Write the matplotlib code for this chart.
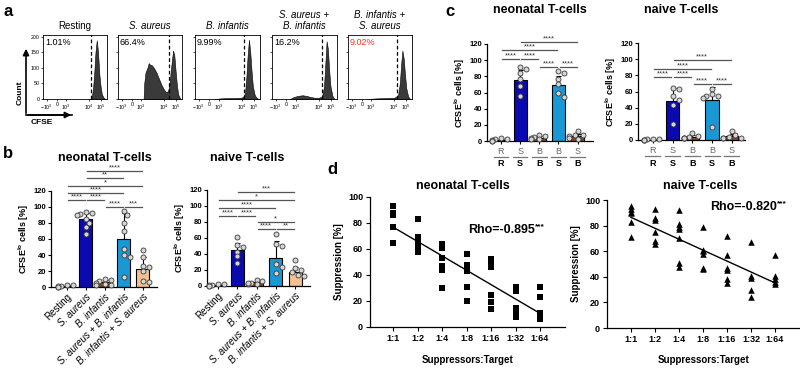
import numpy as np
import matplotlib
matplotlib.use('Agg')
import matplotlib.pyplot as plt
from matplotlib.transforms import offset_copy

plt.rcParams['font.family'] = ['Liberation Sans', 'DejaVu Sans']
plt.rcParams['mathtext.fontset'] = 'custom'
plt.rcParams['mathtext.rm'] = 'Liberation Sans'
plt.rcParams['mathtext.it'] = 'Liberation Sans:italic'
plt.rcParams['mathtext.bf'] = 'Liberation Sans:bold'

# ---------- data ----------
# a: CFSE histograms (position on biexponential axis 0..1, count)
hist_titles = ['Resting', 'S. aureus', 'B. infantis', 'S. aureus +\nB. infantis', 'B. infantis +\nS. aureus']
hist_pct = ['1.01%', '66.4%', '9.99%', '16.2%', '9.02%']
hist_gate = [0.755, 0.79, 0.76, 0.77, 0.77]
h1_x = [0.74, 0.76, 0.78, 0.80, 0.82, 0.84, 0.86, 0.88, 0.90, 0.92, 0.95, 0.98]
h1_y = [0, 5, 30, 80, 150, 188, 150, 80, 40, 15, 3, 0]
h2_x = [0.40, 0.41, 0.43, 0.46, 0.48, 0.50, 0.53, 0.56, 0.60, 0.64, 0.68, 0.72, 0.75, 0.78, 0.80, 0.83, 0.86, 0.88, 0.90, 0.92, 0.94, 0.97]
h2_y = [0, 50, 85, 100, 115, 110, 108, 100, 85, 65, 45, 30, 22, 25, 40, 100, 155, 140, 90, 45, 15, 2]
h3_x = [0.30, 0.40, 0.50, 0.60, 0.70, 0.74, 0.77, 0.79, 0.81, 0.83, 0.85, 0.87, 0.89, 0.92, 0.95, 0.98]
h3_y = [0, 2, 3, 3, 4, 6, 20, 70, 140, 190, 150, 90, 40, 12, 3, 0]
h4_x = [0.28, 0.33, 0.40, 0.47, 0.53, 0.60, 0.66, 0.72, 0.77, 0.80, 0.82, 0.84, 0.86, 0.88, 0.90, 0.93, 0.96]
h4_y = [0, 6, 10, 12, 10, 6, 4, 4, 8, 40, 110, 185, 160, 90, 40, 10, 0]
h5_x = [0.30, 0.45, 0.60, 0.72, 0.78, 0.81, 0.83, 0.85, 0.87, 0.89, 0.91, 0.94, 0.97]
h5_y = [0, 2, 3, 4, 10, 50, 110, 155, 130, 80, 35, 8, 0]
hist_x = [h1_x, h2_x, h3_x, h4_x, h5_x]
hist_y = [h1_y, h2_y, h3_y, h4_y, h5_y]
hist_ticks = [0.06, 0.22, 0.365, 0.72, 0.91]
hist_ticklabels = ['$-10^3$', '0', '$10^3$', '$10^4$', '$10^5$']

# b: CFSE-lo cells, single / combined stimulation
b_labels = ['Resting', 'S. aureus', 'B. infantis', 'S. aureus + B. infantis', 'B. infantis + S. aureus']
b_colors = ['white', '#0a0ab0', '#8a4a1c', '#1a98d4', '#f6c18e']
b_neo_mean = [1, 85, 6, 60, 23]
b_neo_sd = [1, 8, 3, 33, 14]
b_neo_pts = [[0, 1, 2, 3, 1, 0],
             [94, 92, 91, 90, 85, 80, 75, 66],
             [10, 9, 8, 5, 3, 2, 4],
             [95, 90, 80, 70, 47, 40, 37, 12],
             [46, 37, 26, 25, 20, 8, 6]]
b_neo_sig = [(1, 4, 145, '****'), (1, 3, 136, '**'), (0, 4, 126, '*'), (0, 3, 117, '****'),
             (0, 1, 109, '****'), (1, 2, 109, '****'), (2, 3, 100, '****'), (3, 4, 100, '***')]
b_nai_mean = [1, 45, 5, 35, 17]
b_nai_sd = [1, 9, 2, 21, 7]
b_nai_pts = [[0, 1, 2, 1, 0, 2],
             [61, 51, 49, 43, 37, 29],
             [8, 6, 4, 3, 2, 4],
             [65, 52, 50, 27, 24, 16],
             [33, 22, 20, 14, 13, 17]]
b_nai_sig = [(1, 4, 118, '***'), (0, 4, 108, '*'), (0, 3, 97, '****'), (0, 1, 88, '****'),
             (1, 2, 88, '****'), (2, 4, 80, '*'), (2, 3, 71, '****'), (3, 4, 71, '**')]

# c: sequential stimulation
c_first = ['R', 'S', 'B', 'B', 'S']
c_second = ['R', 'S', 'B', 'S', 'B']
c_colors = ['white', '#0a0ab0', '#8a4a1c', '#1a98d4', '#8a4a1c']
c_neo_mean = [1, 75, 4, 69, 6]
c_neo_sd = [1, 13, 2, 12, 3]
c_neo_pts = [[4, 3, 2, 1, 0, 0],
             [92, 89, 84, 77, 68, 56],
             [8, 6, 5, 4, 3, 2],
             [87, 84, 77, 71, 59, 55],
             [12, 8, 7, 6, 4, 2]]
c_neo_sig = [(1, 4, 123, '****'), (0, 3, 112, '****'), (0, 1, 101, '****'), (1, 2, 101, '****'),
             (2, 3, 92, '****'), (3, 4, 92, '****')]
c_nai_mean = [0.5, 48, 4, 49, 5]
c_nai_sd = [0.5, 16, 2, 16, 3]
c_nai_pts = [[1, 0, 0, 1, 0, 1],
             [64, 63, 54, 50, 43, 20],
             [9, 5, 4, 3, 2, 3],
             [63, 57, 55, 54, 52, 16],
             [11, 6, 4, 3, 3, 2]]
c_nai_sig = [(1, 4, 99, '****'), (0, 3, 88, '****'), (0, 1, 78, '****'), (1, 2, 78, '****'),
             (2, 3, 69, '****'), (3, 4, 69, '****')]

# d: suppression vs ratio
ratios = ['1:1', '1:2', '1:4', '1:8', '1:16', '1:32', '1:64']
d_neo = [[93, 88, 86, 77, 65],
         [83, 69, 67, 64, 60, 58],
         [64, 61, 53, 47, 44, 30],
         [56, 48, 43, 31, 20],
         [52, 48, 46, 25, 19, 14],
         [31, 28, 15, 10, 8],
         [31, 23, 11, 8, 6]]
d_nai = [[95, 93, 91, 90, 83, 71],
         [93, 86, 84, 75, 68, 66],
         [92, 81, 79, 77, 70, 51, 48],
         [79, 61, 60, 58, 47, 46],
         [72, 57, 47, 45, 38, 35],
         [67, 41, 39, 30, 24],
         [57, 41, 38, 36, 34]]
rho_neo = 'Rho=-0.895'
rho_nai = 'Rho=-0.820'
rho_stars = '***'

# ---------- figure ----------
W, H = 800, 370
fig = plt.figure(figsize=(8, 3.7), dpi=100)


def box(l, t, r, b):
    return fig.add_axes([l / W, 1 - b / H, (r - l) / W, (b - t) / H])


def ftext(x, y, s, **kw):
    return fig.text(x / W, 1 - y / H, s, **kw)


for lab, x, y in [('a', 8, 12), ('b', 8, 153), ('c', 450, 12), ('d', 332, 170)]:
    ftext(x, y, lab, fontsize=12, fontweight='bold', ha='center', va='center')

# ---- a ----
hist_boxes = [(43, 35, 107, 99), (118, 35, 182, 99), (195, 35, 260, 99), (272, 35, 337, 99), (348, 35, 412, 99)]
for i, (l, t, r, b) in enumerate(hist_boxes):
    ax = box(l, t, r, b)
    ax.fill_between(hist_x[i], hist_y[i], color='#3a3a3a', lw=0.4, edgecolor='black')
    ax.axvline(hist_gate[i], color='black', ls=(0, (3, 2)), lw=0.9)
    ax.set_xlim(0, 1)
    ax.set_ylim(0, 205)
    ax.set_xticks(hist_ticks)
    ax.set_xticklabels(hist_ticklabels)
    ax.set_yticks([0, 50, 100, 150, 200])
    if i > 0:
        ax.set_yticklabels([])
    ax.tick_params(length=1.5, width=0.5, labelsize=3.8, pad=1)
    for s in ax.spines.values():
        s.set_linewidth(0.6)
    ax.text(0.03, 0.95, hist_pct[i], transform=ax.transAxes, fontsize=6.5, va='top',
            color='#e8362a' if i == 4 else 'black')
    ftext((l + r) / 2, t - 4, hist_titles[i], fontsize=7, ha='center', va='bottom',
          fontstyle='normal' if i == 0 else 'italic', linespacing=1.1)

fig.add_artist(plt.Line2D([26 / W, 72 / W], [1 - 115 / H, 1 - 115 / H], color='black', lw=1.2))
ax0 = fig.add_axes([0, 0, 1, 1], frameon=False)
ax0.set_xlim(0, W)
ax0.set_ylim(H, 0)
ax0.axis('off')
ax0.annotate('', xy=(26, 46), xytext=(26, 116), arrowprops=dict(arrowstyle='-|>', lw=1.2, color='black', mutation_scale=9))
ax0.annotate('', xy=(74, 115), xytext=(25.4, 115), arrowprops=dict(arrowstyle='-|>', lw=1.2, color='black', mutation_scale=9))
ftext(20, 93, 'Count', fontsize=6, fontweight='bold', rotation=90, ha='center', va='center')
ftext(42, 123, 'CFSE', fontsize=6, fontweight='bold', ha='center', va='center')


def swarm(vals, xs, ys, d=4.8):
    placed = []
    offs = np.zeros(len(vals))
    for i in np.argsort(vals)[::-1]:
        o = 0.0
        for k in [0, 1, -1, 2, -2, 3, -3]:
            o = k * 0.15
            if all(np.hypot((o - po) * xs, (vals[i] - pv) * ys) >= d for po, pv in placed):
                break
        offs[i] = o
        placed.append((o, vals[i]))
    return offs


def bar_panel(ax, means, sds, pts, colors, sig, pxu, pyu):
    x = np.arange(len(means))
    ax.errorbar(x, means, yerr=[np.zeros(len(sds)), sds], fmt='none', ecolor='black',
                elinewidth=0.8, capsize=1.8, capthick=0.8, zorder=1)
    ax.bar(x, means, width=0.68, color=colors, edgecolor='black', linewidth=0.8, zorder=2)
    for i, p in enumerate(pts):
        p = np.array(p, dtype=float)
        ax.scatter(i + swarm(p, pxu, pyu), p, s=13, c='#d6d6d6', edgecolors='#3a3a3a',
                   linewidths=0.6, zorder=3, clip_on=False)
    for x1, x2, y, lab in sig:
        ax.plot([x1 + 0.06, x2 - 0.06], [y, y], color='#555555', lw=0.9, clip_on=False)
        ax.text((x1 + x2) / 2, y - 0.5, lab, fontsize=5.5, ha='center', va='bottom', color='#333333')
    ax.set_ylim(0, 120)
    ax.set_yticks(np.arange(0, 121, 20))
    ax.spines['top'].set_visible(False)
    ax.spines['right'].set_visible(False)
    for s in ['left', 'bottom']:
        ax.spines[s].set_linewidth(0.9)
    ax.set_xticks(x)
    ax.tick_params(length=2.5, width=0.8, labelsize=5.5, pad=1)
    for t in ax.get_yticklabels():
        t.set_fontweight('bold')
    ax.set_ylabel('CFSE$^{\\mathbf{lo}}$ cells [%]', fontsize=6.5, fontweight='bold', labelpad=2)


# ---- b ----
panels_b = [((51, 191, 157, 287), -0.84, 4.74, b_neo_mean, b_neo_sd, b_neo_pts, b_neo_sig, 'neonatal T-cells', 105),
            ((207, 190, 310, 286), -0.57, 4.77, b_nai_mean, b_nai_sd, b_nai_pts, b_nai_sig, 'naive T-cells', 247)]
for (l, t, r, b), x0, x1, m, sd, pts, sig, title, tx in panels_b:
    ax = box(l, t, r, b)
    ax.set_xlim(x0, x1)
    bar_panel(ax, m, sd, pts, b_colors, sig, (r - l) / (x1 - x0), (b - t) / 120)
    ax.set_xticklabels(b_labels, rotation=45, ha='right', rotation_mode='anchor', fontsize=7)
    for k, tl in enumerate(ax.get_xticklabels()):
        tl.set_fontstyle('normal' if k == 0 else 'italic')
    ftext(tx, 158, title, fontsize=9, fontweight='bold', ha='center', va='center')

# ---- c ----
panels_c = [((487, 44, 593, 141), -0.73, 4.8, c_neo_mean, c_neo_sd, c_neo_pts, c_neo_sig, 'neonatal T-cells', 540),
            ((638, 43, 745, 140), -0.76, 4.67, c_nai_mean, c_nai_sd, c_nai_pts, c_nai_sig, 'naive T-cells', 681)]
for (l, t, r, b), x0, x1, m, sd, pts, sig, title, tx in panels_c:
    ax = box(l, t, r, b)
    ax.set_xlim(x0, x1)
    bar_panel(ax, m, sd, pts, c_colors, sig, (r - l) / (x1 - x0), (b - t) / 120)
    ax.set_xticklabels([])
    tr = ax.get_xaxis_transform()
    for k in range(len(c_first)):
        ax.text(k, 0, c_first[k], transform=offset_copy(tr, fig=fig, y=-10.5, units='dots'),
                fontsize=6.5, color='#666666', ha='center', va='center')
        ax.plot([k - 0.38, k + 0.38], [0, 0], color='#777777', lw=0.9, clip_on=False,
                transform=offset_copy(tr, fig=fig, y=-16, units='dots'))
        ax.text(k, 0, c_second[k], transform=offset_copy(tr, fig=fig, y=-23, units='dots'),
                fontsize=6.5, fontweight='bold', ha='center', va='center')
    ftext(tx, 10, title, fontsize=9, fontweight='bold', ha='center', va='center')

# ---- d ----
panels_d = [((370, 197, 565, 327), -0.94, 7.02, d_neo, 's', rho_neo, (468, 230), 'neonatal T-cells', 463),
            ((607, 200, 800, 328), -1.0, 7.04, d_nai, '^', rho_nai, (710, 207), 'naive T-cells', 700)]
fig.canvas.draw()
renderer = fig.canvas.get_renderer()
for (l, t, r, b), x0, x1, vals, mk, rho, (rx, ry), title, tx in panels_d:
    ax = box(l, t, r, b)
    xs = np.concatenate([[k] * len(v) for k, v in enumerate(vals)])
    ys = np.concatenate(vals)
    ax.scatter(xs, ys, marker=mk, s=24 if mk == 's' else 22, c='black', linewidths=0, clip_on=False, zorder=3)
    slope, icpt = np.polyfit(xs, ys, 1)
    xl = np.array([0, len(vals) - 1])
    ax.plot(xl, icpt + slope * xl, color='black', lw=1.0)
    ax.set_xlim(x0, x1)
    ax.set_ylim(0, 100)
    ax.set_xticks(range(len(ratios)))
    ax.set_xticklabels(ratios)
    ax.set_yticks(np.arange(0, 101, 20))
    ax.spines['top'].set_visible(False)
    ax.spines['right'].set_visible(False)
    for s in ['left', 'bottom']:
        ax.spines[s].set_linewidth(0.9)
    ax.tick_params(length=3, width=0.8, labelsize=6.5, pad=2)
    for tl in ax.get_xticklabels() + ax.get_yticklabels():
        tl.set_fontweight('bold')
    ax.set_ylabel('Suppression [%]', fontsize=7, fontweight='bold', labelpad=3)
    ftext((l + r) / 2, 360, 'Suppressors:Target', fontsize=7, fontweight='bold', ha='center', va='center')
    t_rho = ftext(rx, ry, rho, fontsize=9, fontweight='bold', ha='left', va='center')
    ext = t_rho.get_window_extent(renderer)
    ftext(ext.x1 + 0.5, ry - 3, rho_stars, fontsize=6, fontweight='bold', ha='left', va='center')
    ftext(tx, 186, title, fontsize=9, fontweight='bold', ha='center', va='center')

fig.savefig('out.png', dpi=100)
